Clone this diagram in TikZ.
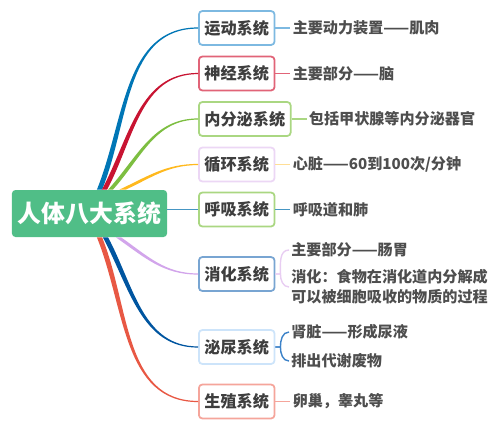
\documentclass[tikz,border=0pt]{standalone}
\usepackage{fontspec}
\setmainfont{Noto Sans CJK SC}
\usetikzlibrary{calc,positioning}

\definecolor{rootgreen}{RGB}{80,190,135}
\definecolor{textgray}{RGB}{62,62,62}
\definecolor{leafgray}{RGB}{78,78,78}
\definecolor{yundongC}{RGB}{0,118,182}
\definecolor{yundongE}{RGB}{125,185,225}
\definecolor{shenjingC}{RGB}{200,20,50}
\definecolor{shenjingE}{RGB}{225,100,120}
\definecolor{neifenmiC}{RGB}{125,190,65}
\definecolor{neifenmiE}{RGB}{170,215,130}
\definecolor{xunhuanC}{RGB}{255,185,30}
\definecolor{xunhuanE}{RGB}{236,215,245}
\definecolor{xunhuanL}{RGB}{255,222,150}
\definecolor{huxiC}{RGB}{70,150,195}
\definecolor{huxiE}{RGB}{170,215,130}
\definecolor{xiaohuaC}{RGB}{210,165,235}
\definecolor{xiaohuaE}{RGB}{120,165,210}
\definecolor{xiaohuaL}{RGB}{232,205,242}
\definecolor{miniaoC}{RGB}{0,85,160}
\definecolor{miniaoE}{RGB}{205,228,250}
\definecolor{miniaoL}{RGB}{60,130,200}
\definecolor{shengzhiC}{RGB}{232,88,68}
\definecolor{shengzhiE}{RGB}{245,165,155}

% tapered branch: colour, root point, half width, out angle, target box
\newcommand\branchup[5]{%
  \fill[#1] ($#2+(-#3,0)$) to[out=#4,in=180] ($(#5.west)+(0,-0.6)$)
    -- ($(#5.west)+(0,0.6)$) to[out=180,in=#4] ($#2+(#3,0)$) -- cycle;}
\newcommand\branchdown[5]{%
  \fill[#1] ($#2+(-#3,0)$) to[out=#4,in=180] ($(#5.west)+(0,0.6)$)
    -- ($(#5.west)+(0,-0.6)$) to[out=180,in=#4] ($#2+(#3,0)$) -- cycle;}

\begin{document}
\begin{tikzpicture}[x=0.02cm,y=-0.02cm,
   sys/.style={draw,rounded corners=2pt,line width=1pt,fill=white,anchor=west,
     minimum height=0.68cm,inner xsep=0.11cm,text=textgray,
     font=\fontsize{9.2}{11}\selectfont\bfseries},
   leaf/.style={inner xsep=0.04cm,inner ysep=1pt,text=leafgray,align=left,
     font=\fontsize{8.6}{11.3}\selectfont\bfseries},
   twig/.style={line width=0.8pt}]
  \useasboundingbox (0,0) rectangle (500,430);

  \node[draw=none,fill=rootgreen,rounded corners=2pt,minimum width=3.1cm,minimum height=0.94cm,
        text=white,font=\fontsize{13.6}{16}\selectfont\bfseries] (root) at (89.5,213.5) {人体八大系统};

  % second level
  \node[sys,draw=yundongE]  (yundong)  at (198,28)    {运动系统};
  \node[sys,draw=shenjingE] (shenjing) at (198,73.5)  {神经系统};
  \node[sys,draw=neifenmiE] (neifenmi) at (198,119)   {内分泌系统};
  \node[sys,draw=xunhuanE]  (xunhuan)  at (198,164.5) {循环系统};
  \node[sys,draw=huxiE]     (huxi)     at (198,209.5) {呼吸系统};
  \node[sys,draw=xiaohuaE]  (xiaohua)  at (198,274)   {消化系统};
  \node[sys,draw=miniaoE]   (miniao)   at (198,347)   {泌尿系统};
  \node[sys,draw=shengzhiE] (shengzhi) at (198,401.5) {生殖系统};

  % branches from the root
  \branchup{yundongC}{(root.north)+(10,0)}{2.6}{68}{yundong}
  \branchup{shenjingC}{(root.north)+(15,0)}{2.6}{62}{shenjing}
  \branchup{neifenmiC}{(root.north)+(21,0)}{2.4}{48}{neifenmi}
  \branchup{xunhuanC}{(root.north)+(33,0)}{3.2}{25}{xunhuan}
  \draw[huxiC,line width=1pt] (root.east |- huxi.west) -- (huxi.west);
  \branchdown{xiaohuaC}{(root.south)+(29,0)}{2.6}{-35}{xiaohua}
  \branchdown{miniaoC}{(root.south)+(16,0)}{2.6}{-62}{miniao}
  \branchdown{shengzhiC}{(root.south)+(10,0)}{2.6}{-68}{shengzhi}

  % leaves
  \node[leaf,right=0.3cm of yundong]  (yundongA)  {主要动力装置——肌肉};
  \node[leaf,right=0.3cm of shenjing] (shenjingA) {主要部分——脑};
  \node[leaf,right=0.3cm of neifenmi] (neifenmiA) {包括甲状腺等内分泌器官};
  \node[leaf,right=0.3cm of xunhuan]  (xunhuanA)  {心脏——60到100次/分钟};
  \node[leaf,right=0.3cm of huxi]     (huxiA)     {呼吸道和肺};
  \node[leaf,anchor=west] (xiaohuaA) at (289,250) {主要部分——肠胃};
  \node[leaf,anchor=west] (xiaohuaB) at (289,287) {消化：食物在消化道内分解成\\可以被细胞吸收的物质的过程};
  \node[leaf,anchor=west] (miniaoA) at (289,332) {肾脏——形成尿液};
  \node[leaf,anchor=west] (miniaoB) at (289,361) {排出代谢废物};
  \node[leaf,right=0.3cm of shengzhi] (shengzhiA) {卵巢，睾丸等};

  \draw[twig,yundongE]  (yundong.east)  -- (yundongA.west);
  \draw[twig,shenjingE] (shenjing.east) -- (shenjingA.west);
  \draw[twig,neifenmiE] (neifenmi.east) -- (neifenmiA.west);
  \draw[twig,xunhuanL]  (xunhuan.east)  -- (xunhuanA.west);
  \draw[twig,huxiC]     (huxi.east)     -- (huxiA.west);
  \draw[twig,shengzhiE] (shengzhi.east) -- (shengzhiA.west);
  % braces
  \draw[twig,xiaohuaL] (xiaohua.east) -- ++(5,0) to[out=90,in=180] (xiaohuaA.west);
  \draw[twig,xiaohuaL] (xiaohua.east) -- ++(5,0) to[out=-90,in=180] (xiaohuaB.west);
  \draw[twig,miniaoL] (miniao.east) -- ++(5,0) to[out=90,in=180] (miniaoA.west);
  \draw[twig,miniaoL] (miniao.east) -- ++(5,0) to[out=-90,in=180] (miniaoB.west);
\end{tikzpicture}
\end{document}
